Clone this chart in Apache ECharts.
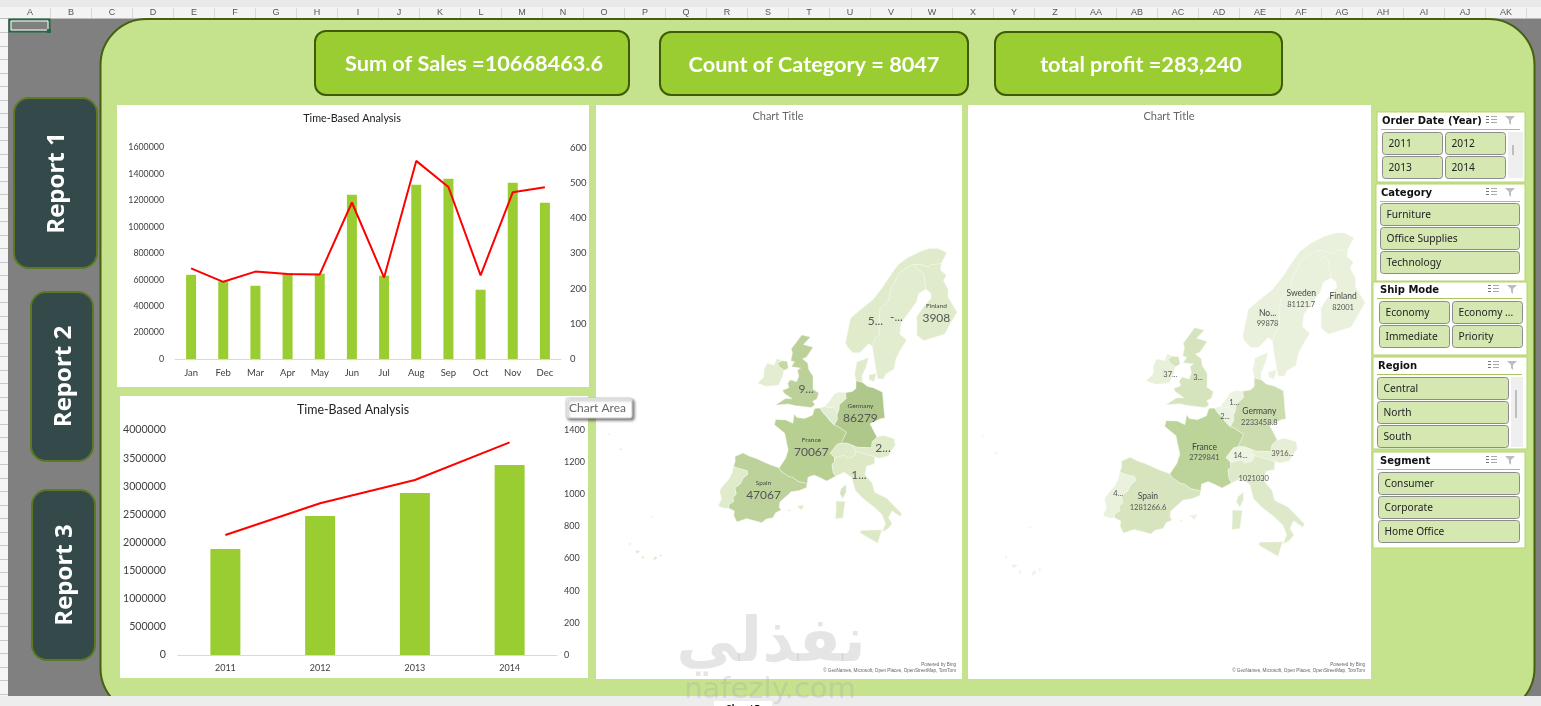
<!DOCTYPE html>
<html><head><meta charset="utf-8">
<style>html,body{margin:0;padding:0;background:#808080;overflow:hidden}#c{width:1541px;height:706px}</style>
<script src="https://cdn.jsdelivr.net/npm/echarts@6/dist/echarts.min.js"></script>
</head><body><div id="c"></div>
<script>
// ---------- data ----------
const months=['Jan','Feb','Mar','Apr','May','Jun','Jul','Aug','Sep','Oct','Nov','Dec'];
const monthlySales=[637000,587000,554000,650000,645000,1242000,630000,1318000,1363000,524000,1333000,1182000];
const monthlyCount=[257,219,248,241,240,444,231,562,488,237,473,487];
const years=['2011','2012','2013','2014'];
const yearlySales=[1884000,2471000,2880000,3378000];
const yearlyCount=[747,944,1089,1323];
const kpiTexts=['Sum of Sales =10668463.6','Count of Category = 8047','total profit =283,240'];
const reportTexts=['Report 1','Report 2','Report 3'];
const chartTitles=['Time-Based Analysis','Time-Based Analysis','Chart Title','Chart Title'];
const columnLetters=['A','B','C','D','E','F','G','H','I','J','K','L','M','N','O','P','Q','R','S','T','U','V','W','X','Y','Z','AA','AB','AC','AD','AE','AF','AG','AH','AI','AJ','AK'];
const slicerYear=['2011','2012','2013','2014'];
const slicerCategory=['Furniture','Office Supplies','Technology'];
const slicerShip=['Economy','Economy ...','Immediate','Priority'];
const slicerRegion=['Central','North','South'];
const slicerSegment=['Consumer','Corporate','Home Office'];

const countries=['Spain','Portugal','France','Belgium','Netherlands','Germany','Switzerland','Austria','Italy','UK','N. Ireland','Ireland','Denmark','Norway','Sweden','Finland','Corsica','Islands'];
const shadesA=['#BDD29A','#E0EBCB','#B8CF92','#E2ECD2','#E8F0DA','#AFC78A','#DDE9C8','#DFEBCB','#DCE9C4','#BCD199','#C4D8A4','#E3EDD2','#E0EBCC','#E0EBCB','#E2ECCF','#E0EBCB','#D5E3BE','#DDE9C8'];
const shadesB=['#D7E5BF','#EAF2DE','#BCD39A','#EDF3E3','#EDF3E3','#CBDCAF','#EDF4E2','#E6EFD6','#DDE9C9','#D6E4BD','#D6E4BD','#E8F0DA','#EAF1DD','#E9F1DC','#E9F1DC','#E9F1DC','#DDE9C9','#EAF2DE'];
const labelNamesA=['Spain','','France','','','Germany','','','','','','','','','','Finland','',''];
const labelValuesA=['47067','','70067','','','86279','','2...','1...','9...','','','','5...','-...','3908','',''];
const labelNamesB=['Spain','','France','','','Germany','','','','','','','','No...','Sweden','Finland','',''];
const labelValuesB=['1281266.6','4...','2729841','2...','1...','2233458.8','14...','3916...','1021030','3...','','37...','','99878','81121.7','82001','',''];
const labelSpotsA=[[-3.2,40.4],null,[2.6,46.5],null,null,[10.3,51.3],null,[15,47.6],[11.3,44.3],[-.9,52.8],null,null,null,[11.2,62],[16.3,62.6],[26.3,63],null,null];
const labelSpotsB=[[-3.7,39.9],[-8,39.7],[2.5,46.4],[4.6,50.4],[5.7,52],[10.4,51],[8.2,46.7],[14.8,47.4],[10.7,44.5],[-1.6,53.7],null,[-6.6,53.2],null,[9.6,61.3],[16.8,63.7],[26.5,63.3],null,null];

const outlines={
Spain:[[[-9.2,43],[-8.2,43.7],[-7,43.6],[-5.8,43.6],[-4,43.45],[-3,43.4],[-1.8,43.35],[-1.4,43.05],[0,42.7],[.7,42.7],[1.7,42.4],[3.2,42.4],[3.2,41.9],[2.2,41.4],[1,41.05],[.7,40.7],[-.3,39.6],[-.2,39],[.2,38.75],[-.5,38.3],[-.7,37.65],[-1.6,37.3],[-2.1,36.75],[-3,36.75],[-4.4,36.7],[-5.3,36.15],[-5.6,36],[-6.3,36.6],[-6.4,37.1],[-7.4,37.2],[-7.5,37.6],[-7,38.1],[-7.3,38.5],[-7,39],[-7.5,39.65],[-6.9,40.3],[-6.8,41],[-6.3,41.6],[-6.6,41.95],[-8.1,41.85],[-8.85,41.9],[-8.9,42.5]]],
Portugal:[[[-8.85,41.9],[-8.1,41.85],[-6.6,41.95],[-6.3,41.6],[-6.8,41],[-6.9,40.3],[-7.5,39.65],[-7,39],[-7.3,38.5],[-7,38.1],[-7.5,37.6],[-7.4,37.2],[-8,37],[-8.9,37],[-8.8,37.9],[-9.5,38.7],[-9.3,39.4],[-8.8,40.4],[-8.7,41.2]]],
France:[[[-1.8,43.35],[-1.2,44.6],[-1.15,45.6],[-2.1,46.8],[-2.5,47.3],[-4.7,47.9],[-4.75,48.5],[-3,48.8],[-1.6,48.65],[-1.8,49.7],[-1.2,49.4],[.2,49.5],[1.5,50.1],[1.6,50.9],[2.55,51.08],[3.2,50.7],[4.2,50.25],[4.85,49.9],[5.8,49.5],[6.4,49.45],[8.2,48.95],[7.6,47.6],[6.9,47.4],[6,46.3],[6.8,45.9],[7,45.3],[6.6,45.1],[7,44.2],[7.5,43.8],[6.2,43.1],[5,43.35],[4,43.5],[3.1,43.1],[3.2,42.4],[1.7,42.4],[.7,42.7],[0,42.7],[-1.4,43.05]]],
Belgium:[[[2.55,51.08],[3.4,51.35],[4.3,51.35],[5,51.45],[5.8,51.15],[6,50.75],[6.2,50.2],[5.8,49.5],[4.85,49.9],[4.2,50.25],[3.2,50.7]]],
Netherlands:[[[3.4,51.35],[4,52],[4.7,52.95],[5.5,53.25],[6.9,53.35],[7.2,52.7],[6.7,52.3],[6.1,51.9],[6.2,51.3],[6,50.75],[5.8,51.15],[5,51.45],[4.3,51.35]]],
Germany:[[[6.9,53.35],[8.2,53.6],[8.8,54],[8.6,54.9],[9.9,54.8],[11,54.4],[12.4,54.3],[14.2,53.9],[14.4,53.2],[14.7,52],[15,51],[14.3,50.9],[12.3,50.2],[13.8,48.75],[13,48.2],[13,47.5],[10.5,47.4],[9.6,47.55],[8.6,47.7],[7.6,47.6],[8.2,48.95],[6.4,49.45],[5.8,49.5],[6.2,50.2],[6,50.75],[6.2,51.3],[6.1,51.9],[6.7,52.3],[7.2,52.7]]],
Switzerland:[[[6,46.3],[6.9,47.4],[7.6,47.6],[8.6,47.7],[9.6,47.55],[10.4,46.9],[10.1,46.3],[9,46],[8.4,46.3],[7.1,45.9],[6.8,45.9]]],
Austria:[[[9.6,47.55],[10.5,47.4],[13,47.5],[13,48.2],[13.8,48.75],[15,49],[16.9,48.7],[17.15,48],[16.2,47],[16,46.7],[14.5,46.4],[12.4,46.7],[10.4,46.9]]],
Italy:[[[6.8,45.9],[7.1,45.9],[8.4,46.3],[9,46],[10.1,46.3],[10.4,46.9],[12.4,46.7],[13.7,46.5],[13.7,45.7],[12.4,45.4],[12.3,44.4],[13.6,43.5],[14.1,42.5],[16.1,41.9],[18.5,40.2],[18.3,39.85],[17,40.5],[16.5,39.7],[17.1,39],[16.5,38.4],[15.7,38],[16.1,39],[15.5,40],[14.2,40.8],[12.3,41.7],[11,42.5],[10.2,43.9],[8.8,44.4],[7.5,43.8],[7,44.2],[6.6,45.1],[7,45.3]],
 [[12.45,38],[15.6,38.25],[15.1,36.7],[14,37.1],[12.45,37.7]],
 [[8.2,41],[9.6,41.1],[9.6,39.2],[8.5,39],[8.4,40]]],
UK:[[[1.4,51.2],[.9,50.9],[-1,50.75],[-2,50.65],[-3.4,50.6],[-5.6,50.05],[-4.2,51.1],[-3,51.3],[-4.8,51.65],[-5.2,51.9],[-4.2,52.4],[-4.7,52.85],[-4.4,53.3],[-3.1,53.3],[-3,54],[-3.6,54.6],[-3.1,54.95],[-5,54.75],[-4.7,55.4],[-5.5,55.4],[-5.7,56.3],[-6.2,56.7],[-5.7,57.5],[-5,58.6],[-3,58.65],[-4,57.6],[-1.8,57.6],[-2.6,56.3],[-3.3,56],[-2,55.7],[-1.4,55],[-.2,54.4],[.2,53.5],[.4,53],[1.7,52.7],[1.6,52],[.9,51.6],[1.4,51.4]]],
'N. Ireland':[[[-7.3,55.05],[-6.2,55.2],[-5.5,54.5],[-6.2,54.1],[-7.4,54.3],[-8,54.6]]],
Ireland:[[[-7.3,55.05],[-8,54.6],[-7.4,54.3],[-6.2,54.1],[-6.1,53.4],[-6.3,52.3],[-8.5,51.7],[-10.2,51.7],[-9.5,52.6],[-10,53.4],[-9.9,54.2],[-8.4,54.3],[-8.4,55.1]]],
Denmark:[[[8.6,54.9],[8.1,55.6],[8.2,57],[10.6,57.7],[10.3,56.6],[9.7,55.5],[9.9,54.8]],[[11.1,55.7],[12.6,56],[12.3,55],[11.2,55.2]]],
Norway:[[[5,59],[5.1,61.9],[7,63],[10,64.5],[12,66],[14.5,68],[16,69],[19,70],[23,70.8],[25.8,71.1],[28.5,71],[31,70.3],[30,69.7],[28.9,69],[25.8,69],[25,68.7],[22.5,69.1],[20.5,69.1],[18,68.5],[16.5,68],[14.5,66],[14,64.5],[12,63.5],[12.2,61.5],[12.5,60.5],[11.5,59.9],[11.2,59],[10.3,59.3],[8.5,58.1],[7,58],[5.5,58.6]]],
Sweden:[[[11.2,59],[11.5,59.9],[12.5,60.5],[12.2,61.5],[12,63.5],[14,64.5],[14.5,66],[16.5,68],[18,68.5],[20.5,69.1],[23.6,67.9],[24,66],[22,65.5],[21.3,64.5],[19,63],[17.5,62],[17.3,60.7],[18.9,60],[17.5,58.8],[16.6,57.8],[16.3,56.6],[14.6,56],[14.2,55.4],[13,55.4],[12.6,56.2],[11.8,57.7]]],
Finland:[[[20.5,69.1],[22.5,69.1],[25,68.7],[25.8,69],[28.9,69],[28.5,68.2],[30,67.5],[29,66.9],[30,65.7],[29.7,64.8],[31.5,62.9],[27.8,60.5],[25,60.2],[22.9,59.9],[21.3,60.6],[21.4,61.8],[21.3,62.7],[23,63.8],[25.3,64.9],[25.2,65.5],[24,66],[23.6,67.9]]],
Corsica:[[[9.4,43],[9.55,42.2],[9.2,41.4],[8.6,41.9],[8.7,42.5]]],
Islands:[[[2.4,39.6],[3.4,39.9],[3.2,39.3]],[[1.2,38.9],[1.6,39.1],[1.5,38.8]],
 [[-16.9,28.3],[-16.2,28.55],[-16.5,28.05]],[[-15.8,28.15],[-15.4,28],[-15.6,27.75]],[[-14.3,28.7],[-13.85,28.7],[-14.2,28.1]],[[-13.8,29.2],[-13.45,29.2],[-13.6,28.9]],[[-18,28.8],[-17.75,28.85],[-17.85,28.45]],
 [[-17.2,32.75],[-16.7,32.75],[-16.95,32.63]],[[-25.85,37.9],[-25.15,37.85],[-25.5,37.7]],[[-28.5,38.55],[-28,38.45],[-28.3,38.4]]]
};

// ---------- Albers equal-area projection, as the reference map uses ----------
const RAD=Math.PI/180, PHI1=35*RAD, PHI2=60*RAD, LAM0=20;
const N=(Math.sin(PHI1)+Math.sin(PHI2))/2, C=Math.cos(PHI1)**2+2*N*Math.sin(PHI1);
function project(p){
  const t=N*(p[0]-LAM0)*RAD, r=Math.sqrt(C-2*N*Math.sin(p[1]*RAD))/N;
  return [1000*r*Math.sin(t),1000*r*Math.cos(t)];
}
const albers={project,unproject(p){
  const x=p[0]/1000,y=p[1]/1000,r=Math.hypot(x,y),t=Math.atan2(x,y);
  return [t/N/RAD+LAM0,Math.asin((C-(r*N)**2)/(2*N))/RAD];
}};
function makeGeo(spots){
  return {type:'FeatureCollection',features:countries.map((name,i)=>({type:'Feature',
    properties:spots[i]?{name,cp:spots[i]}:{name},
    geometry:{type:'MultiPolygon',coordinates:outlines[name].map(r=>[[...r,r[0]]])}}))};
}
// place the map: pixels per projected unit plus where one known place lands
function mapBox(scale,anchorLonLat,ax,ay){
  let x0=1e9,x1=-1e9,y0=1e9,y1=-1e9;
  Object.values(outlines).forEach(poly=>poly.forEach(r=>r.forEach(p=>{
    const q=project(p);x0=Math.min(x0,q[0]);x1=Math.max(x1,q[0]);y0=Math.min(y0,q[1]);y1=Math.max(y1,q[1]);})));
  const a=project(anchorLonLat);
  return {left:ax+(x0-a[0])*scale,top:ay+(y0-a[1])*scale,width:(x1-x0)*scale,height:(y1-y0)*scale};
}
echarts.registerMap('europeA',makeGeo(labelSpotsA));
echarts.registerMap('europeB',makeGeo(labelSpotsB));

function mapSeries(mapName,box,shades,names,vals,nameSize,valSize){
  return Object.assign({type:'map',map:mapName,projection:albers,roam:false,silent:true,selectedMode:false,
    emphasis:{disabled:true},z:3,
    itemStyle:{borderColor:'#F6F9F0',borderWidth:.4,areaColor:'#eef3e4'},
    label:{show:false,color:'#555',lineHeight:12,rich:{
      n:{fontFamily:'Lato',fontSize:nameSize,color:'#444',lineHeight:nameSize+3,align:'center'},
      v:{fontFamily:'Lato',fontSize:valSize,color:'#555',lineHeight:valSize+3,align:'center'}}},
    data:countries.map((name,i)=>({name,value:Number(vals[i])||0,itemStyle:{areaColor:shades[i]},
      label:{show:!!vals[i],formatter:(names[i]?`{n|${names[i]}}\n`:'')+`{v|${vals[i]}}`}}))},box);
}

// ---------- drawing helpers ----------
const els=[];
const rect=(x,y,w,h,fill,o={})=>els.push(Object.assign({type:'rect',silent:true,shape:{x,y,width:w,height:h,r:o.r||0},
  style:{fill,stroke:o.stroke||null,lineWidth:o.lw||0,shadowBlur:o.sb||0,shadowColor:o.sc,shadowOffsetX:o.sx||0,shadowOffsetY:o.sy||0}},o.z?{z:o.z}:{}));
const text=(x,y,t,font,size,color,o={})=>els.push(Object.assign({type:'text',silent:true,x,y,rotation:o.rot||0,
  style:{text:t,fontFamily:font,fontSize:size,fontWeight:o.w||'normal',fill:color,textAlign:o.a||'left',textVerticalAlign:'middle',opacity:o.op==null?1:o.op}},o.z?{z:o.z}:{}));
const hline=(x1,y,x2,c,lw=1)=>els.push({type:'line',silent:true,shape:{x1,y1:y,x2,y2:y},style:{stroke:c,lineWidth:lw}});
const vline=(x,y1,y2,c,lw=1)=>els.push({type:'line',silent:true,shape:{x1:x,y1,x2:x,y2},style:{stroke:c,lineWidth:lw}});

// spreadsheet chrome
rect(0,0,1541,706,'#808080');
rect(0,0,1541,7,'#E9E9E9');
rect(0,7,1541,12,'#F3F3F3');
hline(0,18.5,1541,'#BDBDBD');
rect(0,19,8,677,'#F5F5F5');
for(let ry=32;ry<696;ry+=13.5) hline(0,Math.round(ry)+.5,8,'#C8C8C8');
rect(9.5,19.5,40,12,'rgba(0,0,0,0)',{stroke:'#1F6B43',lw:2});
rect(11,21,37,9,'rgba(0,0,0,0)',{stroke:'#FFFFFF',lw:1});
rect(47,29,4,4,'#1F6B43');
columnLetters.forEach((c,i)=>{text(30+i*41,12.8,c,'Liberation Sans',9,'#555',{a:'center'});vline(50.5+i*41,8,18,'#D8D8D8');});

// main green panel
rect(100.5,19,1434,695,'#C5E28D',{r:46,stroke:'#47600F',lw:2});

// KPI boxes
[[315,31,314,64,474],[660,32,308,63,814],[995,32,287,63,1141]].forEach((b,i)=>{
  rect(b[0],b[1],b[2],b[3],'#9ACD32',{r:11,stroke:'#3F5B05',lw:2});
  text(b[4],b[1]+b[3]/2+1.5,kpiTexts[i],'Lato',21.7,'#FFFFFF',{a:'center',w:'bold'});
});
// report buttons
[[14,98,83,170],[31,292,62,169],[32,490,63,170]].forEach((b,i)=>{
  rect(b[0],b[1],b[2],b[3],'#34494A',{r:15,stroke:'#5C7A1F',lw:2});
  text(b[0]+b[2]/2+2,b[1]+b[3]/2,reportTexts[i],'Open Sans',24,'#FFFFFF',{a:'center',w:'bold',rot:Math.PI/2});
});
// chart cards
rect(117,105,472,282,'#FFFFFF');
rect(120,396,468,282,'#FFFFFF');
rect(596,105,366,574,'#FFFFFF');
rect(968,105,403,574,'#FFFFFF');
// map attribution
[[956],[1365]].forEach(p=>{
  text(p[0],665,'Powered by Bing','Liberation Sans',4.6,'#666',{a:'right'});
  text(p[0],671,'© GeoNames, Microsoft, Open Places, OpenStreetMap, TomTom','Liberation Sans',4.6,'#666',{a:'right'});
});

// slicers
function slicer(s){
  rect(s.x,s.y,s.w,s.h,'#FFFFFF',{stroke:'#B7D36F',lw:1});
  text(s.hx,s.hy,s.title,'DejaVu Sans',s.ts||10,'#111',{w:'bold'});
  hline(s.x+4,s.hy+8.5,s.x+s.w-5,'#A9C75F');
  // header icons
  const ix=s.x+s.w-35,iy=s.hy-1;
  [-4,-1,2].forEach(d=>{hline(ix-4,iy+d+.5,ix-1,'#777');hline(ix+1,iy+d+.5,ix+7,'#AAA');});
  els.push({type:'polygon',silent:true,shape:{points:[[ix+15,iy-4],[ix+25,iy-4],[ix+21,iy],[ix+21,iy+5],[ix+19,iy+3],[ix+19,iy]]},style:{fill:'#BDBDBD'}});
  s.items.forEach((t,i)=>{
    const c=s.cols||1,col=i%c,row=Math.floor(i/c);
    const bx=s.bx+col*(s.bw+3),by=s.by+row*24;
    const h=s.clip&&by+22>s.y+s.h?s.y+s.h-by:22;
    rect(bx,by,s.bw,h,'#D5E8B2',{r:3,stroke:'#8C8C8C',lw:1});
    text(bx+6,by+11.5,t,'Noto Sans',10.2,'#222');
  });
  if(s.sb){rect(s.sb[0],s.sb[1],s.sb[2],s.sb[3],'#EFEFEF');vline(s.sb[4],s.sb[5],s.sb[6],'#8C8C8C',1);}
}
slicer({x:1377,y:112,w:148,h:70,title:'Order Date (Year)',hx:1382,hy:121,items:slicerYear,cols:2,bx:1382.5,by:132.5,bw:60,sb:[1508,132,15,46,1513,145,155]});
slicer({x:1376,y:184,w:149,h:97,title:'Category',hx:1381,hy:193,items:slicerCategory,bx:1380.5,by:203.5,bw:139});
slicer({x:1373,y:282,w:154,h:73,title:'Ship Mode',hx:1380,hy:290,items:slicerShip,cols:2,bx:1379.5,by:301.5,bw:70});
slicer({x:1373,y:357,w:154,h:92,title:'Region',hx:1378,hy:366,items:slicerRegion,bx:1377.5,by:377.5,bw:131,clip:true,sb:[1511,377,12,70,1516,390,418]});
slicer({x:1373,y:452,w:152,h:96,title:'Segment',hx:1380,hy:461,items:slicerSegment,bx:1378.5,by:472.5,bw:141});

// chart-area tooltip
rect(566,398,66,20,'#FFFFFF',{r:2,stroke:'#D0D0D0',lw:1,sb:3,sc:'rgba(0,0,0,.5)',sx:2,sy:2,z:8});
text(569,408,'Chart Area','Lato',12,'#666',{z:9});
// sheet tabs strip + watermark
rect(0,696,1541,10,'#EDEDED',{z:6});
rect(714,701,58,5,'#FFFFFF',{z:6});
text(743,709,'Sheet5','Lato',11,'#111',{a:'center',z:7,w:'bold'});
text(771,645,'نفذلي','DejaVu Sans',62,'#9A9A9A',{a:'center',w:'bold',op:.26,z:9});
text(770,690,'nafezly.com','DejaVu Sans',29,'#AAAAAA',{a:'center',op:.3,z:9});

const tick=(size)=>({fontFamily:'Lato',fontSize:size,color:'#404040',formatter:v=>String(v)});
const tickCat=(size)=>({fontFamily:'Lato',fontSize:size,color:'#404040'});
const boxA=mapBox(.493,[-9.5,38.8],720,490);
const boxB=mapBox(.541,[-9.5,38.8],1105,498);

const option={
  animation:false,
  backgroundColor:'#808080',
  graphic:{elements:els},
  title:[
    {text:chartTitles[0],left:347,top:108,textAlign:'center',textStyle:{fontFamily:'Lato',fontSize:10.8,fontWeight:'normal',color:'#222'}},
    {text:chartTitles[1],left:348,top:399,textAlign:'center',textStyle:{fontFamily:'Lato',fontSize:12.4,fontWeight:'normal',color:'#222'}},
    {text:chartTitles[2],left:773,top:106,textAlign:'center',textStyle:{fontFamily:'Lato',fontSize:11,fontWeight:'normal',color:'#666'}},
    {text:chartTitles[3],left:1164,top:106,textAlign:'center',textStyle:{fontFamily:'Lato',fontSize:11,fontWeight:'normal',color:'#666'}}
  ],
  grid:[
    {left:175,top:147.5,width:386,height:211.5,containLabel:false},
    {left:178,top:430,width:379,height:225,containLabel:false}
  ],
  xAxis:[
    {type:'category',gridIndex:0,data:months,axisLine:{lineStyle:{color:'#D9D9D9'}},axisTick:{show:false},axisLabel:Object.assign(tickCat(9.5),{margin:9,interval:0})},
    {type:'category',gridIndex:1,data:years,axisLine:{lineStyle:{color:'#D9D9D9'}},axisTick:{show:false},axisLabel:Object.assign(tickCat(9),{margin:9})}
  ],
  yAxis:[
    {type:'value',gridIndex:0,min:0,max:1600000,interval:200000,splitLine:{show:false},axisLabel:Object.assign(tick(8.8),{margin:11})},
    {type:'value',gridIndex:0,position:'right',min:0,max:600,interval:100,splitLine:{show:false},axisLabel:Object.assign(tick(9.5),{margin:9})},
    {type:'value',gridIndex:1,min:0,max:4000000,interval:500000,splitLine:{show:false},axisLabel:Object.assign(tick(10.6),{margin:12})},
    {type:'value',gridIndex:1,position:'right',min:0,max:1400,interval:200,splitLine:{show:false},axisLabel:Object.assign(tick(9),{margin:7})}
  ],
  series:[
    {type:'bar',xAxisIndex:0,yAxisIndex:0,data:monthlySales,barWidth:10,itemStyle:{color:'#9ACD32'},silent:true},
    {type:'line',xAxisIndex:0,yAxisIndex:1,data:monthlyCount,showSymbol:false,lineStyle:{color:'#FF0000',width:2},silent:true},
    {type:'bar',xAxisIndex:1,yAxisIndex:2,data:yearlySales,barWidth:30,itemStyle:{color:'#9ACD32'},silent:true},
    {type:'line',xAxisIndex:1,yAxisIndex:3,data:yearlyCount,showSymbol:false,lineStyle:{color:'#FF0000',width:2},silent:true},
    mapSeries('europeA',boxA,shadesA,labelNamesA,labelValuesA,6.5,12),
    mapSeries('europeB',boxB,shadesB,labelNamesB,labelValuesB,8.5,7.5)
  ]
};
echarts.init(document.getElementById('c'),null,{renderer:'canvas'}).setOption(option);
</script></body></html>
